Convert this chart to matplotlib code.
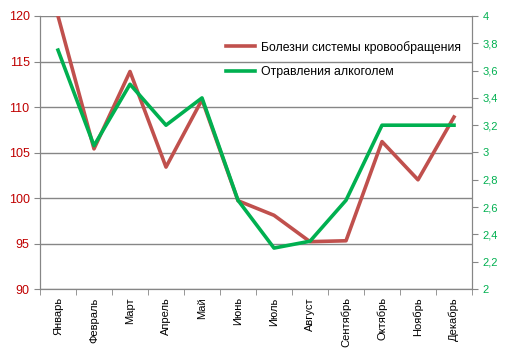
import matplotlib.pyplot as plt
import numpy as np

plt.rcParams['font.family'] = ['Liberation Sans', 'DejaVu Sans']

months = ['Январь', 'Февраль', 'Март', 'Апрель', 'Май', 'Июнь',
          'Июль', 'Август', 'Сентябрь', 'Октябрь', 'Ноябрь', 'Декабрь']
blood = [120.0, 105.4, 113.9, 103.4, 110.8, 99.7, 98.1, 95.2, 95.3, 106.2, 102.0, 108.9]
alcohol = [3.75, 3.05, 3.5, 3.2, 3.4, 2.65, 2.3, 2.35, 2.65, 3.2, 3.2, 3.2]

red = '#C0504D'
green = '#00B050'
grey = '#868686'

fig = plt.figure(figsize=(5.09, 3.54), dpi=100)
ax = fig.add_axes([40 / 509, 65 / 354, 432 / 509, 273 / 354])
ax2 = ax.twinx()

x = np.arange(len(months))
l1, = ax.plot(x, blood, color=red, lw=2.6, label='Болезни системы кровообращения')
l2, = ax2.plot(x, alcohol, color=green, lw=2.6, label='Отравления алкоголем')

ax.set_xlim(-0.5, 11.5)
ax.set_ylim(90, 120)
ax2.set_ylim(2, 4)
ax.set_yticks(np.arange(90, 121, 5))
ax2.set_yticks(np.arange(2, 4.01, 0.2))
ax2.set_yticklabels([('%g' % v).replace('.', ',') for v in np.arange(2, 4.01, 0.2)])

ax.yaxis.grid(True, color=grey, lw=1)
ax.set_axisbelow(True)

ax.set_xticks(x)
ax.set_xticklabels(months, rotation=90)
ax.set_xticks(np.arange(-0.5, 12, 1), minor=True)
ax.tick_params(axis='x', which='major', length=0, labelsize=8, pad=6)
ax.tick_params(axis='x', which='minor', length=4, color=grey)
ax.tick_params(axis='y', length=4, color=grey, labelcolor='#C00000', labelsize=9)
ax2.tick_params(axis='y', length=4, color=grey, labelcolor=green, labelsize=8)

for a in (ax, ax2):
    a.spines['top'].set_visible(False)
    for s in ('left', 'right', 'bottom'):
        a.spines[s].set_color(grey)

ax.legend(handles=[l1, l2], loc='upper right', bbox_to_anchor=(1.0, 0.95),
          frameon=False, fontsize=8.8, handlelength=2.4, handletextpad=0.5,
          labelspacing=1.0)

fig.savefig('out.png', dpi=100)
